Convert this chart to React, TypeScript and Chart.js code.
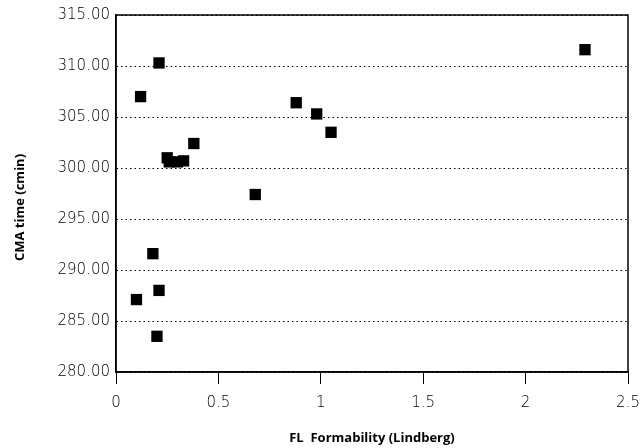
import React, { useEffect, useRef } from "react";
import { Chart, registerables } from "chart.js";

Chart.register(...registerables);

const formability: number[] = [0.10, 0.12, 0.18, 0.20, 0.21, 0.21, 0.25, 0.26, 0.30, 0.33, 0.38, 0.68, 0.88, 0.98, 1.05, 2.29];
const cmaTime: number[] = [287.1, 307.0, 291.6, 283.5, 288.0, 310.3, 301.0, 300.6, 300.6, 300.7, 302.4, 297.4, 306.4, 305.3, 303.5, 311.6];
const xTickValues: number[] = [0, 0.5, 1, 1.5, 2, 2.5];
const xTickLabels: string[] = ["0", "0.5", "1", "1.5", "2", "2.5"];
const yTickValues: number[] = [280, 285, 290, 295, 300, 305, 310, 315];
const xTitle = "FL  Formability (Lindberg)";
const yTitle = "CMA time (cmin)";

const TITLE_FONT = "bold 13px 'Open Sans'";

const framePlugin = {
  id: "frameAndTitles",
  afterDraw(chart: any) {
    const { ctx, chartArea } = chart;
    ctx.save();
    ctx.strokeStyle = "#000";
    ctx.lineWidth = 1.5;
    ctx.strokeRect(chartArea.left, chartArea.top, chartArea.right - chartArea.left, chartArea.bottom - chartArea.top);
    ctx.fillStyle = "#000";
    ctx.font = TITLE_FONT;
    ctx.textAlign = "center";
    ctx.textBaseline = "middle";
    ctx.fillText(xTitle, (chartArea.left + chartArea.right) / 2, chartArea.bottom + 66);
    ctx.translate(20, (chartArea.top + chartArea.bottom) / 2 + 14);
    ctx.rotate(-Math.PI / 2);
    ctx.fillText(yTitle, 0, 0);
    ctx.restore();
  },
};

export default function App() {
  const ref = useRef<HTMLCanvasElement | null>(null);
  useEffect(() => {
    const canvas = ref.current;
    if (!canvas) return;
    const tickFont = { family: "'DejaVu Sans'", size: 15, weight: "200" as any };
    const chart = new Chart(canvas, {
      type: "scatter",
      data: {
        datasets: [
          {
            data: formability.map((x, i) => ({ x, y: cmaTime[i] })),
            pointStyle: "rect",
            pointRadius: 8,
            pointHoverRadius: 8,
            backgroundColor: "#000",
            borderWidth: 0,
          },
        ],
      },
      options: {
        animation: false,
        responsive: false,
        maintainAspectRatio: false,
        layout: { padding: { left: 0, top: 15, right: 14, bottom: 0 } },
        plugins: { legend: { display: false }, tooltip: { enabled: false } },
        scales: {
          x: {
            type: "linear",
            min: 0,
            max: 2.5,
            afterFit: (s: any) => {
              s.height = 76;
              s.paddingLeft = 0;
              s.paddingRight = 0;
            },
            afterBuildTicks: (s: any) => { s.ticks = xTickValues.map((v) => ({ value: v })); },
            ticks: {
              color: "#000",
              font: tickFont,
              padding: 10,
              maxRotation: 0,
              callback: (v: any) => {
                const i = xTickValues.indexOf(Number(v));
                return i >= 0 ? xTickLabels[i] : "";
              },
            },
            grid: { drawOnChartArea: false, drawTicks: true, tickLength: 12, color: "#000", lineWidth: 1 },
            border: { display: true, color: "#000", width: 1.5 },
            title: { display: false },
          },
          y: {
            type: "linear",
            min: 280,
            max: 315,
            afterFit: (s: any) => {
              s.width = 116;
              s.paddingTop = 0;
              s.paddingBottom = 0;
            },
            afterBuildTicks: (s: any) => { s.ticks = yTickValues.map((v) => ({ value: v })); },
            ticks: {
              color: "#000",
              font: tickFont,
              padding: 6,
              callback: (v: any) => Number(v).toFixed(2),
            },
            grid: { drawOnChartArea: true, drawTicks: false, color: "#000", lineWidth: 1 },
            border: { display: true, color: "#000", width: 1.5, dash: [1.5, 3] },
            title: { display: false },
          },
        },
      },
      plugins: [framePlugin],
    } as any);
    return () => chart.destroy();
  }, []);
  return (
    <div style={{ position: "fixed", left: 0, top: 0, width: 642, height: 448, background: "#fff" }}>
      <canvas ref={ref} width={642} height={448} style={{ width: 642, height: 448 }} />
    </div>
  );
}
